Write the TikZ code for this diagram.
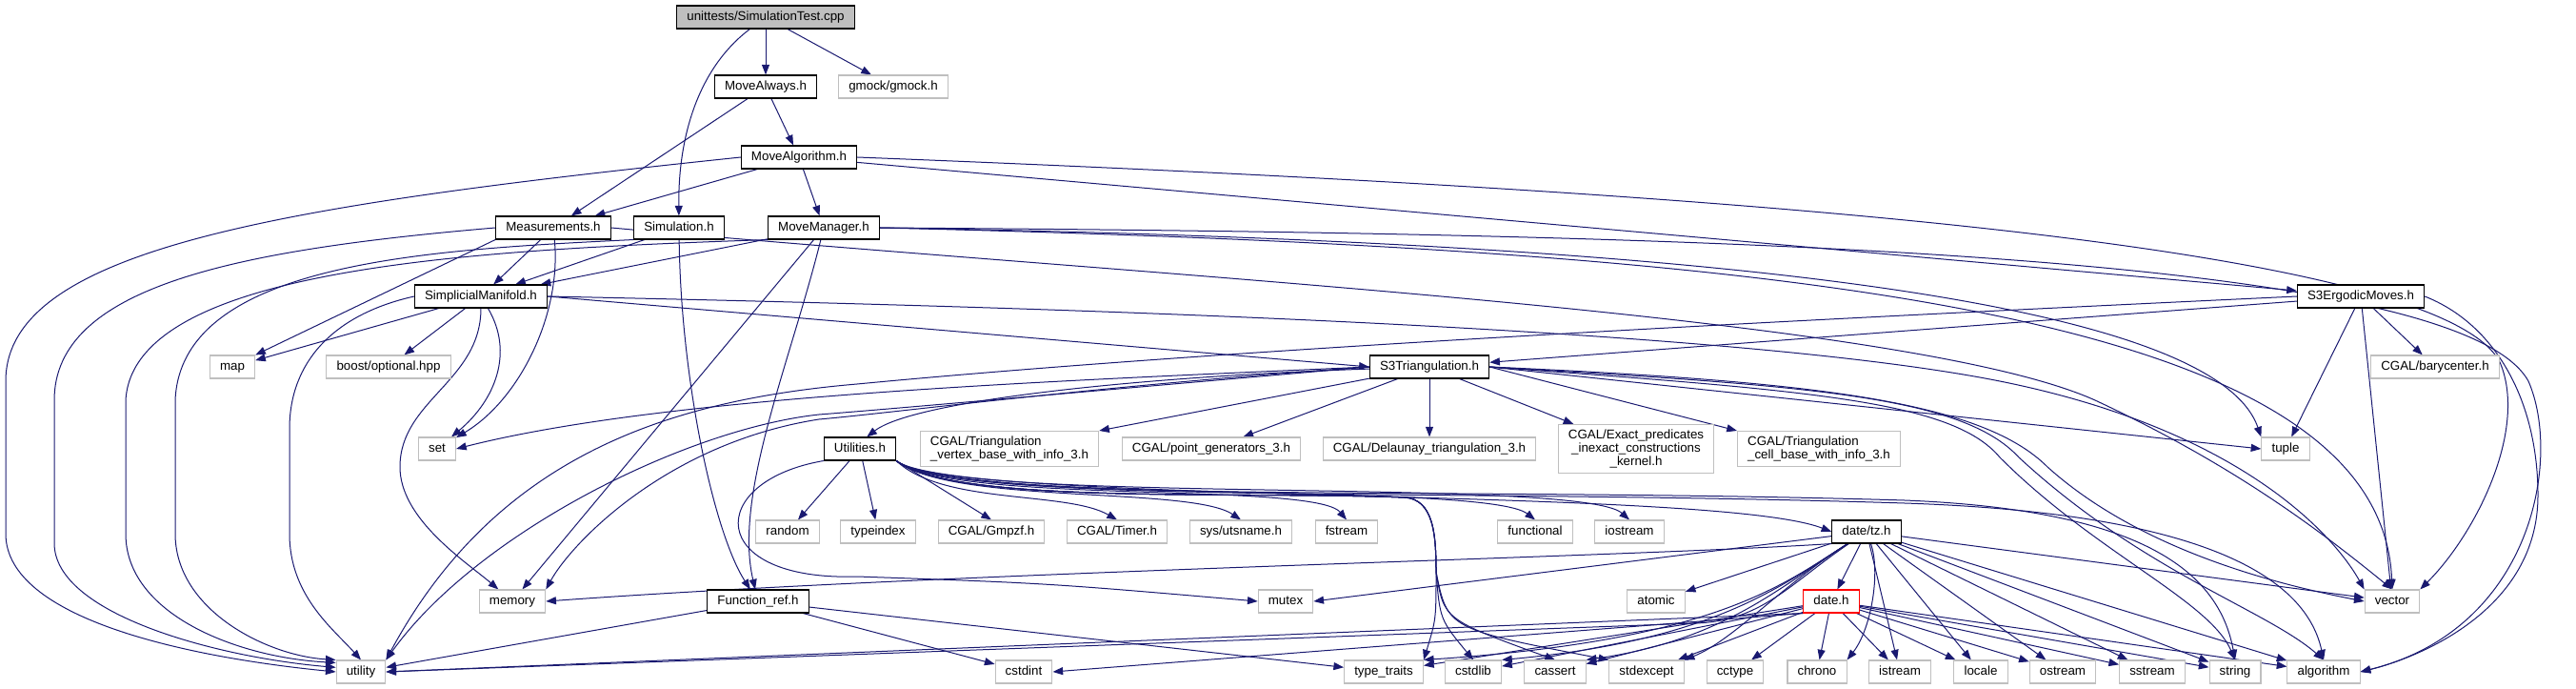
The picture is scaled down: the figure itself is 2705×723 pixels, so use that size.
\documentclass[tikz,border=0pt]{standalone}
\usepackage{fontspec}
\setmainfont{Liberation Sans}
\usetikzlibrary{arrows.meta}
\definecolor{edgeblue}{RGB}{25,25,112}
\definecolor{rootgrey}{RGB}{191,191,191}
\definecolor{sysgrey}{RGB}{191,191,191}
\pgfdeclarelayer{edges}
\pgfsetlayers{edges,main}

\begin{document}
\begin{tikzpicture}[x=0.75pt,y=-0.75pt,
  font=\fontsize{10}{10.5}\selectfont,
  hdr/.style={draw=black,line width=0.8pt,fill=white,minimum height=18pt,inner xsep=8pt,text height=7.5pt,text depth=2pt},
  syshdr/.style={hdr,draw=sysgrey},
  roothdr/.style={hdr,fill=rootgrey},
  markhdr/.style={hdr,draw=red},
  longhdr/.style={draw=sysgrey,line width=0.8pt,fill=white,inner xsep=8pt,inner ysep=4pt,align=left},
  inc/.style={edgeblue,line width=0.75pt,-{Triangle[length=8pt,width=6pt]}}]

\useasboundingbox (0,0) rectangle (2705,723);

% project headers
\node[roothdr] (test) at (804,18) {unittests/SimulationTest.cpp};
\node[hdr] (always) at (804,91) {MoveAlways.h};
\node[syshdr] (gmock) at (938,91) {gmock/gmock.h};
\node[hdr] (algo) at (839,165) {MoveAlgorithm.h};
\node[hdr] (meas) at (581,239) {Measurements.h};
\node[hdr] (simu) at (713,239) {Simulation.h};
\node[hdr] (mgr) at (865,239) {MoveManager.h};
\node[hdr] (simp) at (505,311) {SimplicialManifold.h};
\node[hdr] (ergo) at (2479,311) {S3ErgodicMoves.h};
\node[hdr] (s3tri) at (1501,385) {S3Triangulation.h};
\node[hdr] (util) at (903,471) {Utilities.h};
\node[hdr] (funcref) at (796,631) {Function\_ref.h};
\node[hdr] (tz) at (1960,558) {date/tz.h};
\node[markhdr] (date) at (1923,631) {date.h};

% library headers
\node[syshdr] (map) at (244,385) {map};
\node[syshdr] (boost) at (408,385) {boost/optional.hpp};
\node[syshdr] (bary) at (2557,385) {CGAL/barycenter.h};
\node[syshdr] (set) at (459,471) {set};
\node[longhdr] (tvb) at (1060,471) {CGAL/Triangulation\\\_vertex\_base\_with\_info\_3.h};
\node[syshdr] (pgen) at (1272,471) {CGAL/point\_generators\_3.h};
\node[syshdr] (delaunay) at (1501,471) {CGAL/Delaunay\_triangulation\_3.h};
\node[longhdr,align=center] (exact) at (1718,471) {CGAL/Exact\_predicates\\\_inexact\_constructions\\\_kernel.h};
\node[longhdr] (tcb) at (1910,471) {CGAL/Triangulation\\\_cell\_base\_with\_info\_3.h};
\node[syshdr] (tuple) at (2400,471) {tuple};
\node[syshdr] (random) at (827,558) {random};
\node[syshdr] (typeindex) at (922,558) {typeindex};
\node[syshdr] (gmpzf) at (1041,558) {CGAL/Gmpzf.h};
\node[syshdr] (timer) at (1173,558) {CGAL/Timer.h};
\node[syshdr] (utsname) at (1303,558) {sys/utsname.h};
\node[syshdr] (fstream) at (1414,558) {fstream};
\node[syshdr] (functional) at (1612,558) {functional};
\node[syshdr] (iostream) at (1711,558) {iostream};
\node[syshdr] (memory) at (538,631) {memory};
\node[syshdr] (mutex) at (1350,631) {mutex};
\node[syshdr] (atomic) at (1739,631) {atomic};
\node[syshdr] (vector) at (2512,631) {vector};
\node[syshdr] (utility) at (379,705) {utility};
\node[syshdr] (cstdint) at (1075,705) {cstdint};
\node[syshdr] (typetraits) at (1453,705) {type\_traits};
\node[syshdr] (cstdlib) at (1547,705) {cstdlib};
\node[syshdr] (cassert) at (1633,705) {cassert};
\node[syshdr] (stdexcept) at (1729,705) {stdexcept};
\node[syshdr] (cctype) at (1822,705) {cctype};
\node[syshdr] (chrono) at (1908,705) {chrono};
\node[syshdr] (istream) at (1995,705) {istream};
\node[syshdr] (locale) at (2080,705) {locale};
\node[syshdr] (ostream) at (2166,705) {ostream};
\node[syshdr] (sstream) at (2260,705) {sstream};
\node[syshdr] (string) at (2347,705) {string};
\node[syshdr] (algorithm) at (2440,705) {algorithm};

% bend between fstream and functional
\coordinate (gap) at (1475,522);

\begin{pgfonlayer}{edges}
% test file
\draw[inc] (test) -- (always);
\draw[inc] (test) -- (gmock);
\draw[inc] (test) .. controls (735,70) and (712,140) .. (simu);
% MoveAlways.h
\draw[inc] (always) -- (algo);
\draw[inc] (always) -- (meas);
% MoveAlgorithm.h
\draw[inc] (algo) -- (meas);
\draw[inc] (algo) -- (mgr);
\draw[inc] (algo) -- (ergo);
\draw[inc] (algo.west) .. controls (300,215) and (6,260) .. (6,400) -- (6,560) .. controls (6,650) and (200,690) .. (utility.west);
\draw[inc] (algo.east) .. controls (1800,200) and (2560,255) .. (2625,380) .. controls (2655,450) and (2600,560) .. (vector.north east);
% Measurements.h
\draw[inc] (meas) -- (simp);
\draw[inc] (meas.south west) -- (map.north east);
\draw[inc] (meas) .. controls (590,330) and (545,420) .. (set);
\draw[inc] (meas.west) .. controls (250,262) and (57,300) .. (57,420) -- (57,570) .. controls (57,645) and (230,690) .. (utility.170);
\draw[inc] (meas.east) .. controls (1200,290) and (2000,330) .. (2200,420) .. controls (2350,490) and (2440,560) .. (vector.north);
% Simulation.h
\draw[inc] (simu) -- (simp);
\draw[inc] (simu) .. controls (715,400) and (750,560) .. (funcref);
\draw[inc] (simu.south west) .. controls (450,262) and (190,275) .. (184,420) -- (184,560) .. controls (184,640) and (280,688) .. (utility.north west);
% MoveManager.h
\draw[inc] (mgr) -- (simp);
\draw[inc] (mgr) -- (memory);
\draw[inc] (mgr) .. controls (830,380) and (770,520) .. (funcref);
\draw[inc] (mgr.south west) .. controls (500,262) and (140,280) .. (132,420) -- (132,560) .. controls (132,645) and (250,690) .. (utility.160);
\draw[inc] (mgr.east) .. controls (1900,255) and (2330,330) .. (tuple.north west);
\draw[inc] (mgr.east) .. controls (1900,262) and (2500,330) .. (vector.north);
\draw[inc] (mgr.east) .. controls (1800,245) and (2580,265) .. (2655,400) .. controls (2690,480) and (2660,660) .. (algorithm.east);
% SimplicialManifold.h
\draw[inc] (simp) -- (map);
\draw[inc] (simp) -- (boost);
\draw[inc] (simp) .. controls (540,370) and (520,420) .. (set);
\draw[inc] (simp) .. controls (505,400) and (420,420) .. (420,490) .. controls (420,545) and (490,590) .. (memory);
\draw[inc] (simp.west) .. controls (350,330) and (304,380) .. (304,450) -- (304,560) .. controls (304,625) and (350,660) .. (utility.north);
\draw[inc] (simp.east) -- (s3tri.west);
\draw[inc] (simp.east) .. controls (1000,320) and (1800,340) .. (2100,400) .. controls (2350,450) and (2450,560) .. (vector.north west);
% S3ErgodicMoves.h
\draw[inc] (ergo) -- (s3tri);
\draw[inc] (ergo) -- (bary);
\draw[inc] (ergo) -- (tuple);
\draw[inc] (ergo) -- (vector);
\draw[inc] (ergo.east) .. controls (2620,340) and (2665,420) .. (2665,520) .. controls (2665,640) and (2540,690) .. (algorithm.east);
\draw[inc] (ergo.west) .. controls (1900,335) and (1300,365) .. (900,403) .. controls (700,420) and (520,480) .. (utility.north east);
% S3Triangulation.h
\draw[inc] (s3tri) .. controls (1200,395) and (960,420) .. (util.60);
\draw[inc] (s3tri) -- (tvb.north east);
\draw[inc] (s3tri) -- (pgen);
\draw[inc] (s3tri) -- (delaunay);
\draw[inc] (s3tri) -- (exact);
\draw[inc] (s3tri.east) -- (tcb.north west);
\draw[inc] (s3tri.west) .. controls (1100,400) and (700,415) .. (set.east);
\draw[inc] (s3tri.west) .. controls (1150,405) and (950,432) .. (860,440) .. controls (700,465) and (600,570) .. (memory.north east);
\draw[inc] (s3tri.west) .. controls (1150,410) and (950,428) .. (860,435) .. controls (720,450) and (500,560) .. (utility.north east);
\draw[inc] (s3tri.east) -- (tuple.west);
\draw[inc] (s3tri.east) .. controls (1900,400) and (2080,420) .. (2150,490) .. controls (2250,580) and (2400,615) .. (vector.west);
\draw[inc] (s3tri.east) .. controls (1900,405) and (2060,415) .. (2120,480) .. controls (2250,600) and (2380,640) .. (algorithm.north);
\draw[inc] (s3tri.east) .. controls (1900,410) and (2050,420) .. (2100,480) .. controls (2200,580) and (2320,630) .. (string.north);
% Utilities.h
\draw[inc] (util) -- (random);
\draw[inc] (util) -- (typeindex);
\draw[inc] (util.south east) -- (gmpzf.north);
\draw[inc] (util.south east) .. controls (990,530) and (1120,515) .. (timer.north);
\draw[inc] (util.south east) .. controls (1000,530) and (1250,510) .. (utsname.north);
\draw[inc] (util.south east) .. controls (1000,530) and (1380,505) .. (fstream.north);
\draw[inc] (util.south east) .. controls (1000,530) and (1560,505) .. (functional.north);
\draw[inc] (util.south east) .. controls (1000,530) and (1660,500) .. (iostream.north);
\draw[inc] (util.south east) .. controls (1000,530) and (1800,510) .. (tz.west);
\draw[inc] (util.south west) .. controls (740,505) and (740,610) .. (900,605) .. controls (1100,612) .. (mutex.west);
\draw[inc] (util.south east) .. controls (1000,530) and (1300,515) .. (gap) .. controls (1505,524) and (1508,560) .. (1508,600) .. controls (1508,650) .. (typetraits.north east);
\draw[inc] (util.south east) .. controls (1000,530) and (1300,515) .. (gap) .. controls (1505,524) and (1508,560) .. (1508,600) .. controls (1512,650) .. (cstdlib.north);
\draw[inc] (util.south east) .. controls (1000,530) and (1300,515) .. (gap) .. controls (1505,524) and (1508,560) .. (1508,600) .. controls (1516,650) .. (cassert.north);
\draw[inc] (util.south east) .. controls (1000,530) and (1300,515) .. (gap) .. controls (1505,524) and (1508,560) .. (1508,600) .. controls (1520,660) .. (stdexcept.north west);
\draw[inc] (util.south east) .. controls (1000,530) and (1500,510) .. (2000,525) .. controls (2250,535) and (2330,600) .. (string.north);
\draw[inc] (util.south east) .. controls (1000,530) and (1500,512) .. (2000,528) .. controls (2300,538) and (2420,600) .. (algorithm.north);
% Function_ref.h
\draw[inc] (funcref) -- (utility);
\draw[inc] (funcref) -- (cstdint);
\draw[inc] (funcref) -- (typetraits);
% date/tz.h
\draw[inc] (tz) -- (date);
\draw[inc] (tz) -- (atomic);
\draw[inc] (tz) -- (mutex.east);
\draw[inc] (tz.south west) .. controls (1700,585) and (1000,600) .. (memory.east);
\draw[inc] (tz) .. controls (1880,612) and (1850,652) .. (1780,654) -- (utility.east);
\draw[inc] (tz) .. controls (1870,615) and (1800,672) .. (typetraits.north east);
\draw[inc] (tz) .. controls (1870,615) and (1800,672) .. (cstdlib.north east);
\draw[inc] (tz) .. controls (1870,615) and (1810,672) .. (cassert.north east);
\draw[inc] (tz) .. controls (1870,615) and (1820,672) .. (stdexcept.north east);
\draw[inc] (tz) .. controls (1975,600) and (1965,660) .. (chrono.north east);
\draw[inc] (tz) -- (istream);
\draw[inc] (tz) -- (locale);
\draw[inc] (tz) -- (ostream);
\draw[inc] (tz) -- (sstream);
\draw[inc] (tz) -- (string);
\draw[inc] (tz) -- (algorithm);
\draw[inc] (tz) -- (vector);
% date.h
\draw[inc] (date.south west) -- (utility.east);
\draw[inc] (date.south west) -- (cstdint.east);
\draw[inc] (date) -- (typetraits);
\draw[inc] (date) -- (cstdlib);
\draw[inc] (date) -- (cassert);
\draw[inc] (date) -- (stdexcept);
\draw[inc] (date) -- (cctype);
\draw[inc] (date) -- (chrono);
\draw[inc] (date) -- (istream);
\draw[inc] (date) -- (locale);
\draw[inc] (date) -- (ostream);
\draw[inc] (date) -- (sstream);
\draw[inc] (date) -- (string);
\draw[inc] (date) -- (algorithm);
\end{pgfonlayer}
\end{tikzpicture}
\end{document}
